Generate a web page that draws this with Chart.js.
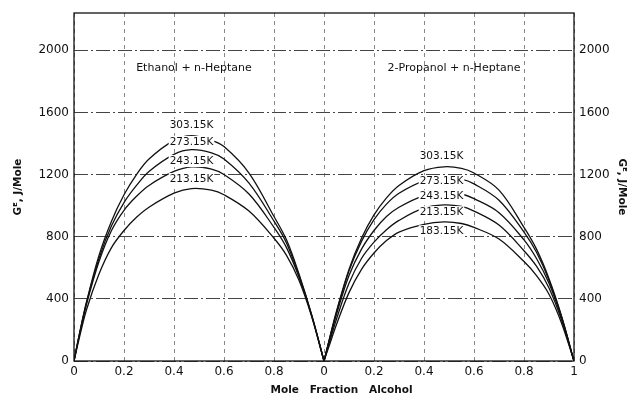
<!DOCTYPE html>
<html>
<head>
<meta charset="utf-8">
<script src="https://cdn.jsdelivr.net/npm/chart.js@4.4.1/dist/chart.umd.min.js"></script>
<style>
html,body{margin:0;padding:0;background:#fff;}
#wrap{width:632px;height:398px;position:relative;}
</style>
</head>
<body>
<div id="wrap"><canvas id="c"></canvas></div>
<script>
// ======= Data =======
const panels = ['Ethanol + n-Heptane', '2-Propanol + n-Heptane'];

// mole fraction alcohol, ethanol panel
const xEthanol = [0,0.02,0.05,0.1,0.15,0.2,0.25,0.3,0.4,0.47,0.55,0.6,0.7,0.8,0.85,0.9,0.95,1];
const tEthanol = ['303.15K','273.15K','243.15K','213.15K'];
const gE303 = [0,160,380,680,900,1070,1200,1300,1420,1450,1420,1380,1210,930,780,560,300,0];
const gE273 = [0,160,375,660,870,1020,1130,1220,1330,1360,1340,1300,1145,900,760,550,300,0];
const gE243 = [0,155,365,640,840,970,1060,1130,1220,1250,1235,1200,1075,860,730,540,295,0];
const gE213 = [0,140,330,560,730,840,925,990,1080,1110,1100,1070,965,790,680,520,290,0];

// mole fraction alcohol, 2-propanol panel
const xPropanol = [0,0.02,0.05,0.1,0.15,0.2,0.25,0.3,0.4,0.48,0.55,0.6,0.7,0.8,0.85,0.9,0.95,1];
const tPropanol = ['303.15K','273.15K','243.15K','213.15K','183.15K'];
const gP303 = [0,130,320,590,790,940,1050,1130,1225,1250,1240,1210,1100,860,720,530,290,0];
const gP273 = [0,130,315,580,770,910,1010,1080,1160,1180,1170,1140,1035,830,700,520,285,0];
const gP243 = [0,125,300,550,720,840,930,990,1065,1085,1075,1045,955,780,660,500,280,0];
const gP213 = [0,110,270,500,660,765,845,905,985,1005,995,965,875,710,610,470,265,0];
const gP183 = [0,95,235,440,590,695,775,830,880,895,885,860,785,640,550,430,245,0];

const yTicks = [0,400,800,1200,1600,2000];
const xTickLabels = ['0','0.2','0.4','0.6','0.8','0','0.2','0.4','0.6','0.8','1'];

// ======= Helpers =======
function pts(xs, ys, off){ return xs.map((x,i)=>({x:x+off, y:ys[i]})); }
function line(data){
  return {data, borderColor:'#111', borderWidth:1.3, pointRadius:0, fill:false, tension:0.35};
}

const datasets = [
  ...[gE303,gE273,gE243,gE213].map(g=>line(pts(xEthanol,g,0))),
  ...[gP303,gP273,gP243,gP213,gP183].map(g=>line(pts(xPropanol,g,1)))
];

// label spots (data coords) for temperatures and panel titles
const tempSpots = [
  [0.47,1519],[0.47,1410],[0.47,1287],[0.47,1171],
  [1.47,1319],[1.47,1158],[1.47,1061],[1.47,958],[1.47,835]
];
const panelSpots = [[0.48,1885],[1.52,1885]];

const FONT = '"DejaVu Sans", sans-serif';

const labelsPlugin = {
  id:'labels',
  afterDatasetsDraw(chart){
    const {ctx, scales:{x,y}} = chart;
    ctx.save();
    ctx.font = '10.5px ' + FONT;
    ctx.textAlign = 'center';
    ctx.textBaseline = 'middle';
    const temps = [...tEthanol, ...tPropanol];
    temps.forEach((t,i)=>{
      const px = x.getPixelForValue(tempSpots[i][0]);
      const py = y.getPixelForValue(tempSpots[i][1]);
      const w = ctx.measureText(t).width;
      ctx.fillStyle = '#fff';
      ctx.fillRect(px-w/2-1, py-6, w+2, 12);
      ctx.fillStyle = '#111';
      ctx.fillText(t, px, py);
    });
    ctx.font = '11px ' + FONT;
    panels.forEach((p,i)=>{
      ctx.fillText(p, x.getPixelForValue(panelSpots[i][0]), y.getPixelForValue(panelSpots[i][1]));
    });
    // x title, slightly right of centre like the original
    ctx.font = 'bold 10.5px ' + FONT;
    ctx.fillText('Mole   Fraction   Alcohol', x.getPixelForValue(1.07), 390);
    // frame
    const a = chart.chartArea;
    ctx.strokeStyle = '#111';
    ctx.lineWidth = 1.3;
    ctx.strokeRect(a.left, a.top, a.right-a.left, a.bottom-a.top);
    ctx.restore();
  }
};

const yCommon = {
  min:0, max:2240,
  afterBuildTicks(s){ s.ticks = yTicks.map(v=>({value:v})); },
  ticks:{color:'#111', font:{family:FONT,size:12}, padding:5, callback:v=>String(v)},
  grid:{color:'#444', lineWidth:1, drawTicks:false},
  border:{display:false, dash:[14,3,2,3]}
};
const yTitle = {display:true, text:'Gᴱ, J/Mole', color:'#111', font:{family:FONT,size:10.5,weight:'bold'}};

new Chart(document.getElementById('c'), {
  type:'line',
  data:{datasets},
  options:{
    responsive:true, maintainAspectRatio:false, animation:false,
    layout:{padding:{top:13, left:0, right:0, bottom:0}},
    plugins:{legend:{display:false}, tooltip:{enabled:false}},
    scales:{
      x:{
        type:'linear', min:0, max:2,
        afterBuildTicks(s){ s.ticks = xTickLabels.map((_,i)=>({value:i*0.2})); },
        ticks:{color:'#111', font:{family:FONT,size:12}, padding:4, maxRotation:0, autoSkip:false,
               callback:(v,i)=>xTickLabels[i]},
        grid:{color:'#888', lineWidth:1, drawTicks:false},
        border:{display:false, dash:[4,4]},
        afterFit(s){ s.height = 37; }
      },
      y:{...yCommon, position:'left', title:{...yTitle, padding:{top:12,bottom:0}},
         afterFit(s){ s.width = 74; }},
      y2:{...yCommon, position:'right', grid:{display:false, drawTicks:false},
          title:{...yTitle, padding:{top:4,bottom:0}},
          afterFit(s){ s.width = 58; }}
    }
  },
  plugins:[labelsPlugin]
});
</script>
</body>
</html>
